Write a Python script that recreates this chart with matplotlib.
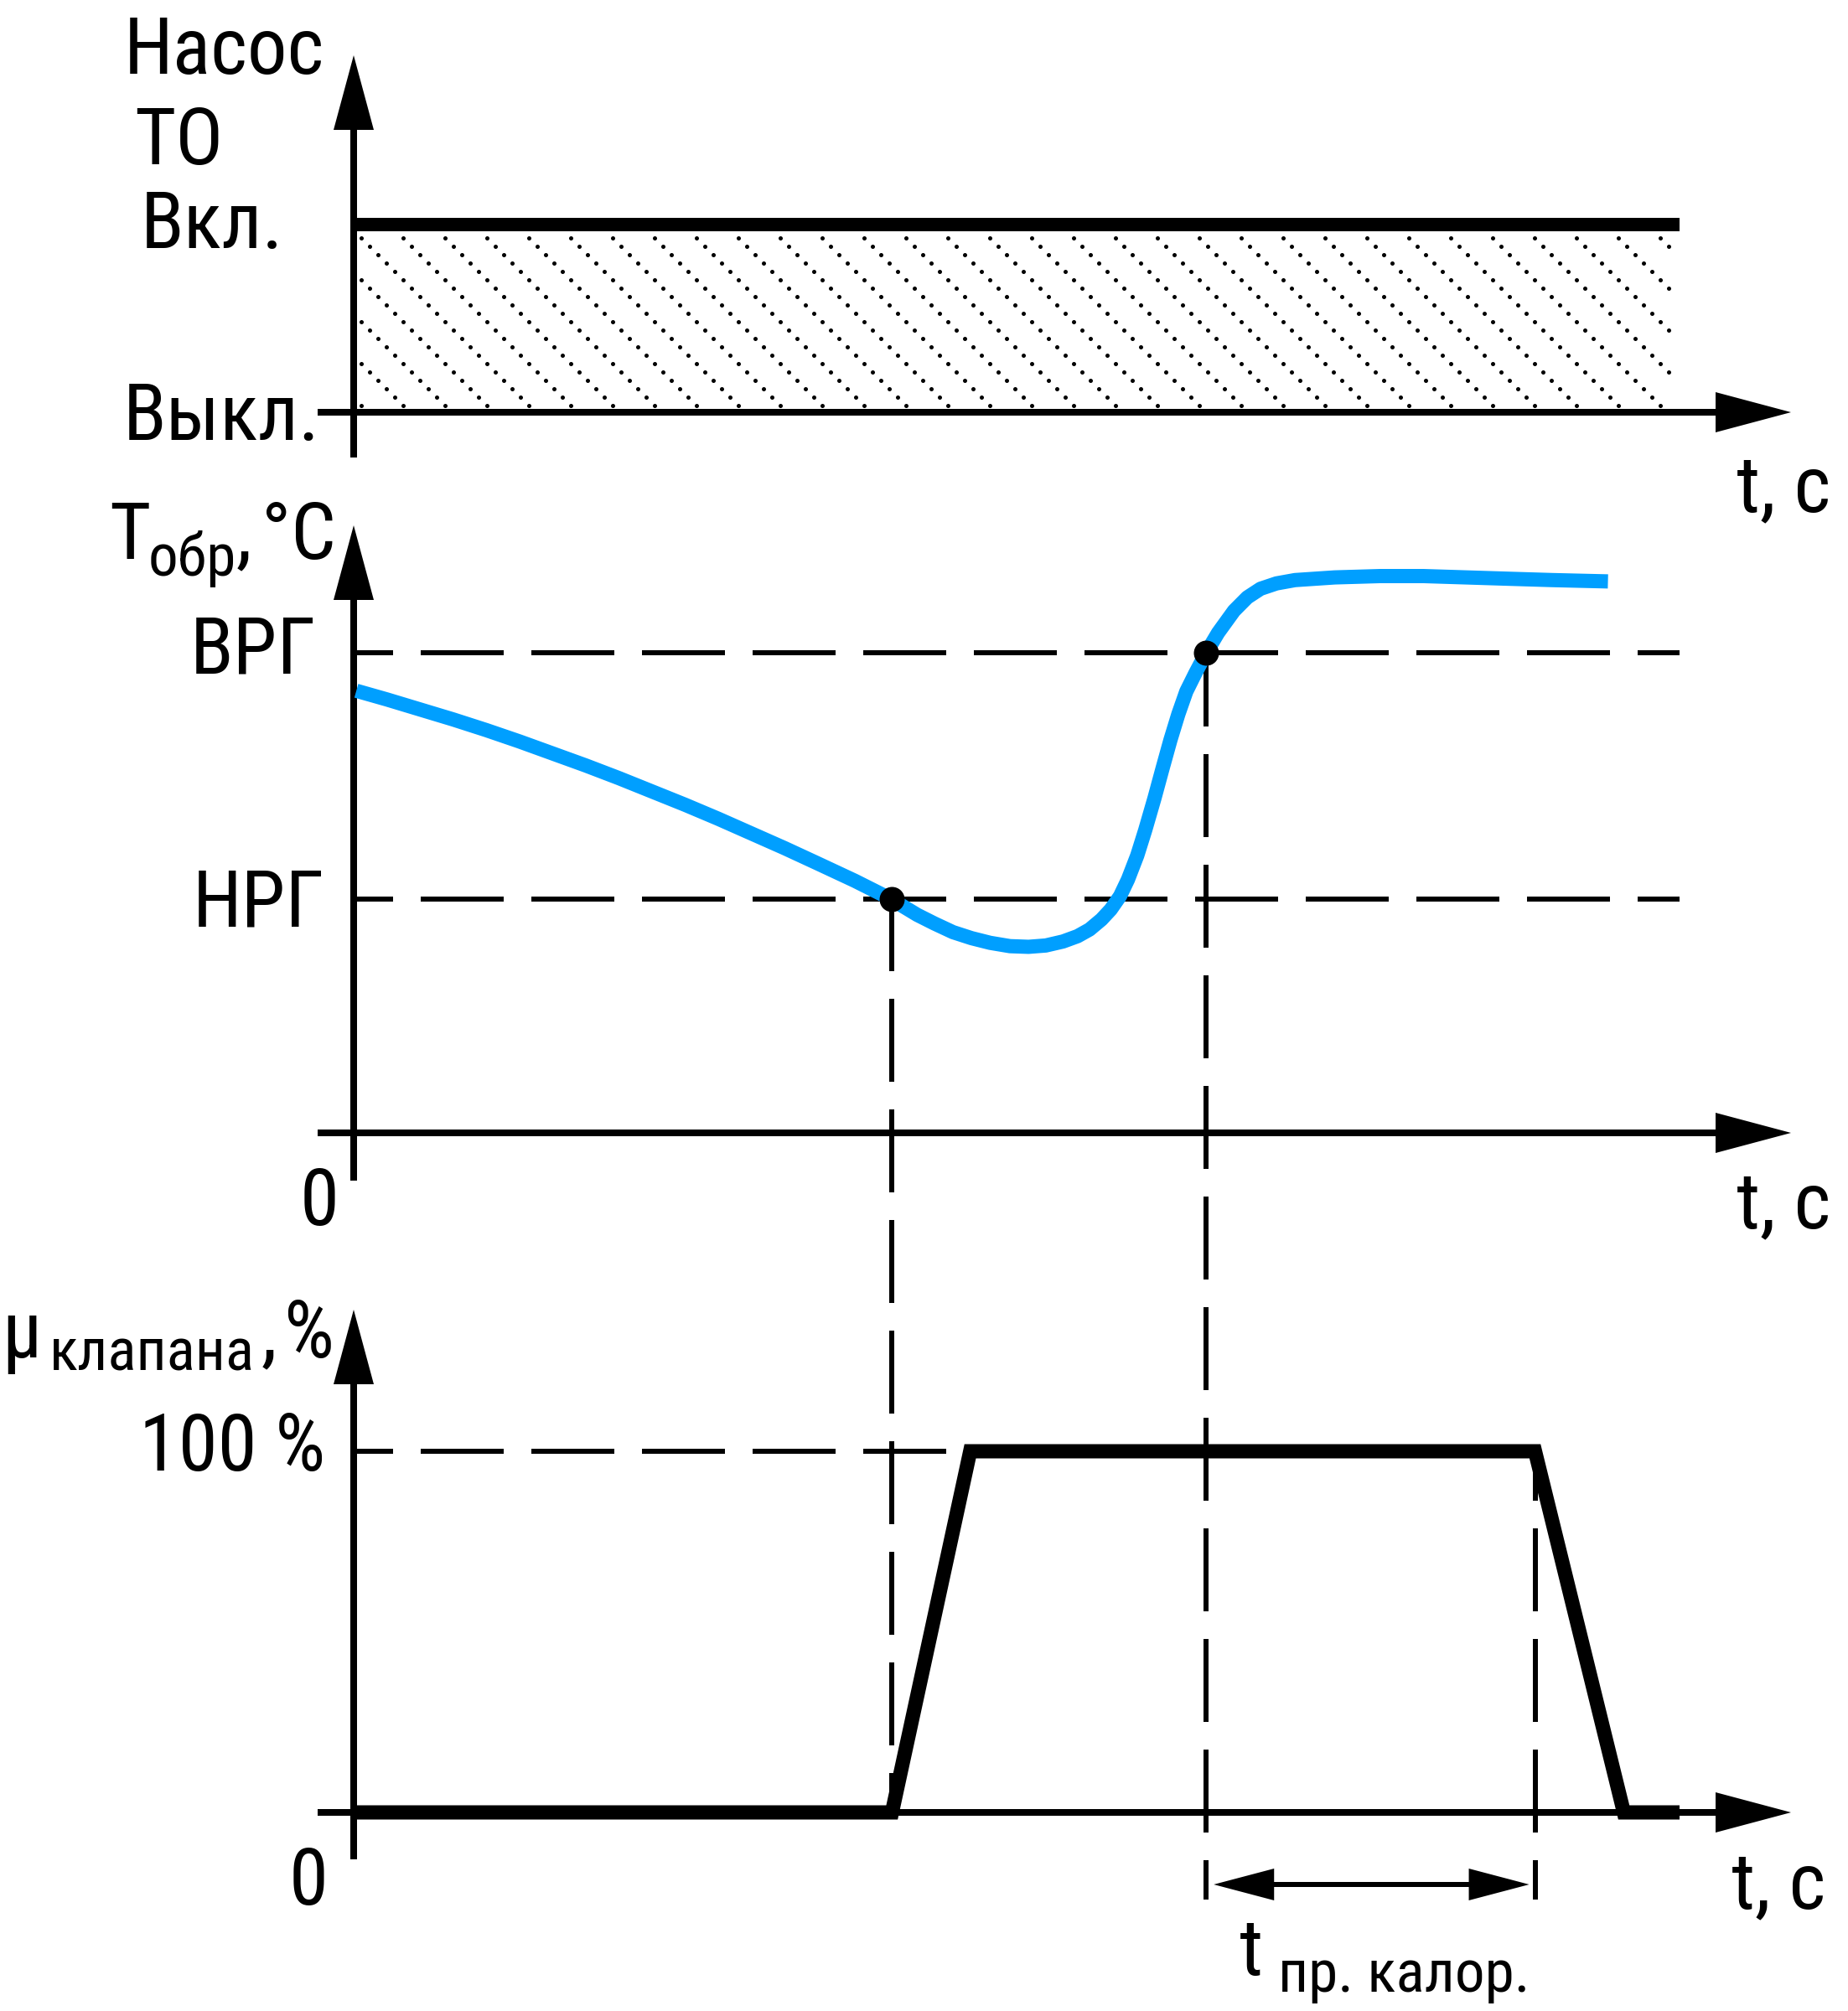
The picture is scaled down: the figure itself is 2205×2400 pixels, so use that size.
import os
import numpy as np
import matplotlib
matplotlib.use("Agg")
import matplotlib.pyplot as plt
from matplotlib import font_manager as fm
from matplotlib.patches import Polygon
from matplotlib.transforms import blended_transform_factory

# ------------------------------------------------------------------ data
pump_t = [0, 100]            # time, s (arbitrary units)
pump_state = [1, 1]          # 1 = "Вкл.", 0 = "Выкл."
pump_labels = ["Выкл.", "Вкл."]

temp_t = [0.2, 2.5, 5.0, 7.5, 10.0, 12.5, 15.0, 17.5, 20.0, 22.5, 25.0, 27.5,
          30.0, 32.5, 35.0, 37.8, 40.6, 41.5, 42.5, 43.8, 45.2, 46.6, 48.0,
          49.5, 50.9, 52.2, 53.5, 54.6, 55.5, 56.4, 57.1, 57.8, 58.4, 59.1,
          59.7, 60.4, 61.0, 61.6, 62.2, 62.8, 63.5, 64.3, 65.2, 66.4, 67.4,
          68.4, 69.6, 71.0, 74.0, 77.4, 80.7, 83.9, 87.1, 90.4, 94.6]
temp_val = [66.3, 65.0, 63.5, 62.0, 60.4, 58.7, 56.9, 55.1, 53.2, 51.2, 49.2,
            47.1, 44.9, 42.7, 40.4, 37.8, 35.0, 33.9, 32.7, 31.4, 30.1, 29.2,
            28.5, 28.0, 27.9, 28.1, 28.7, 29.5, 30.5, 32.0, 33.5, 35.5, 38.0,
            41.6, 45.4, 50.2, 54.6, 58.9, 62.8, 66.2, 69.0, 72.0, 75.0, 78.3,
            80.3, 81.6, 82.4, 82.9, 83.3, 83.5, 83.5, 83.3, 83.1, 82.9, 82.7]

T_nrg, T_vrg = 35, 72        # lower / upper thresholds, °C
t_nrg, t_vrg = 40.6, 64.3    # crossing times
temp_tick_labels = ["НРГ", "ВРГ"]

valve_t = [0, 40.6, 46.5, 89.1, 95.8, 100]
valve_pct = [0, 0, 100, 100, 0, 0]
t_close = 89.1
valve_tick_label = "100 %"

# ------------------------------------------------------------------ fonts
def pick_font():
    cands = [('Liberation Sans Narrow', 'normal'), ('Arial Narrow', 'normal'),
             ('Roboto Condensed', 'normal'), ('Noto Sans', 'condensed'),
             ('Noto Sans', 'semi-condensed'), ('Open Sans Condensed', 'normal'),
             ('Open Sans', 'condensed'), ('Roboto', 'condensed'),
             ('DejaVu Sans', 'condensed')]
    for fam, st in cands:
        try:
            path = fm.findfont(fm.FontProperties(family=fam, stretch=st),
                               fallback_to_default=False)
        except Exception:
            continue
        name = os.path.basename(path).lower()
        if 'narrow' in name or 'cond' in name:
            return fm.FontProperties(fname=path)
    return fm.FontProperties(family='Liberation Sans')


FP = pick_font()

# ------------------------------------------------------------------ layout
W, H, DPI = 2205, 2400, 100
PT = 72.0 / DPI                      # points per pixel
X0, PXT = 422, 15.82                 # pixel of t=0, pixels per time unit
Y_TOP0, S_TOP = 492, 224             # pump panel
Y_MID0, S_MID = 1352, 7.958          # temperature panel
Y_BOT0, S_BOT = 2163, 4.31           # valve panel
X_END_ARROW = 2137
X_AX_START = 379

plt.rcParams['lines.scale_dashes'] = False

fig = plt.figure(figsize=(W / DPI, H / DPI), dpi=DPI)
fig.patch.set_facecolor('white')
renderer = fig.canvas.get_renderer()


def data_axes(y0, s):
    ax = fig.add_axes([0, 0, 1, 1])
    ax.set_xlim(-X0 / PXT, (W - X0) / PXT)
    ax.set_ylim((y0 - H) / s, y0 / s)
    ax.axis('off')
    ax.patch.set_alpha(0)
    return ax


ax_px = fig.add_axes([0, 0, 1, 1])
ax_px.set_xlim(0, W)
ax_px.set_ylim(H, 0)
ax_px.axis('off')

ax_top = data_axes(Y_TOP0, S_TOP)
ax_mid = data_axes(Y_MID0, S_MID)
ax_bot = data_axes(Y_BOT0, S_BOT)

# font scale: compromise between matching glyph height and text width
_probe = ax_px.text(0, 0, "Насос", fontproperties=FP, fontsize=72)
_w = _probe.get_window_extent(renderer=renderer).width
_probe.remove()
K = float(np.clip((227.0 / _w) ** 0.5, 0.8, 1.05))
BIG, SMALL = 72 * K, 54 * K

AXLW = 8 * PT
DASHLW = 6 * PT
DASH = (52 * PT, (99 * PT, 33 * PT))


def to_px(ax, x, y):
    d = ax.transData.transform((x, y))
    return d[0], H - d[1]


def vaxis(tip_y, bottom_y):
    ax_px.plot([X0, X0], [tip_y + 80, bottom_y], color='black', lw=AXLW,
               solid_capstyle='butt', zorder=3)
    ax_px.add_patch(Polygon([(X0 - 24, tip_y + 89), (X0 + 24, tip_y + 89),
                             (X0, tip_y)], closed=True, color='black', lw=0,
                            zorder=3))


def haxis(y):
    ax_px.plot([X_AX_START, X_END_ARROW - 80], [y, y], color='black',
               lw=AXLW, solid_capstyle='butt', zorder=3)
    ax_px.add_patch(Polygon([(X_END_ARROW - 90, y - 24),
                             (X_END_ARROW - 90, y + 24), (X_END_ARROW, y)],
                            closed=True, color='black', lw=0, zorder=3))


def txt(x, y, s, size=None, ha='left'):
    return ax_px.text(x, y, s, fontsize=BIG if size is None else size,
                      ha=ha, va='baseline', fontproperties=FP,
                      color='black', zorder=5)


def chain(x, parts):
    """parts: (text, size, baseline_y, gap_before_px)"""
    for s, size, y, gap in parts:
        x += gap
        t = txt(x, y, s, size=size)
        x = t.get_window_extent(renderer=renderer).x1


# ------------------------------------------------------------------ panel 1: pump
vaxis(66, 546)
haxis(Y_TOP0)
ax_top.plot(pump_t, pump_state, color='black', lw=16 * PT,
            solid_capstyle='butt', zorder=4)
# dotted diagonal hatch inside the "on" area
xl, yt = to_px(ax_top, pump_t[0], max(pump_state))
xr, yb = to_px(ax_top, pump_t[-1], 0)
rows = np.arange(yt + 16, yb - 4, 10)
dots_x, dots_y = [], []
for yy in rows:
    xs = np.arange(xl + 9, xr - 3, 10)
    xs = xs[np.isclose(np.mod(xs - yy - 47 + 1e-6, 50), 0, atol=0.5)]
    dots_x.extend(xs)
    dots_y.extend([yy] * len(xs))
ax_px.scatter(dots_x, dots_y, s=(5 * PT) ** 2, color='black', lw=0, zorder=2)

txt(387, 88, "Насос", ha='right')
txt(160, 196, "ТО")
txt(168, 296, pump_labels[1])
txt(382, 525, pump_labels[0], ha='right')
txt(2072, 610, "t, c")

# ------------------------------------------------------------------ panel 2: temperature
vaxis(627, 1409)
haxis(Y_MID0)
for T in (T_nrg, T_vrg):
    ax_mid.plot([0, pump_t[-1]], [T, T], color='black', lw=DASHLW,
                linestyle=DASH, dash_capstyle='butt', zorder=2)
ax_mid.plot(temp_t, temp_val, color='#009FFF', lw=17 * PT,
            solid_capstyle='butt', solid_joinstyle='round', zorder=4)
ax_mid.plot([t_nrg, t_vrg], [T_nrg, T_vrg], 'o', color='black',
            markersize=30 * PT, markeredgewidth=0, zorder=6)

chain(130, [("T", BIG, 667, 0), ("обр", SMALL, 687, -3),
            (",", BIG, 667, 0), ("°C", BIG, 667, 12)])
txt(377, 803, temp_tick_labels[1], ha='right')
txt(387, 1106, temp_tick_labels[0], ha='right')
txt(358, 1462, "0")
txt(2072, 1465, "t, c")

# ------------------------------------------------------------------ panel 3: valve
vaxis(1563, 2219)
haxis(Y_BOT0)
ax_bot.plot([0, valve_t[2]], [100, 100], color='black', lw=DASHLW,
            linestyle=DASH, dash_capstyle='butt', zorder=2)
ax_bot.plot(valve_t, valve_pct, color='black', lw=17 * PT,
            solid_capstyle='butt', solid_joinstyle='miter', zorder=4)

# vertical dashed guide lines (bottom -> top)
blend = blended_transform_factory(ax_bot.transData, ax_px.transData)
guides = [(t_nrg, Y_BOT0, to_px(ax_mid, 0, T_nrg)[1]),
          (t_vrg, 2267, to_px(ax_mid, 0, T_vrg)[1]),
          (t_close, 2267, to_px(ax_bot, 0, 100)[1])]
for tg, ybot, ytop in guides:
    ax_px.plot([tg, tg], [ybot, ytop], transform=blend, color='black',
               lw=DASHLW, linestyle=DASH, dash_capstyle='butt', zorder=2)

# double arrow for t пр. калор.
xa = to_px(ax_bot, t_vrg, 0)[0] + 9
xb = to_px(ax_bot, t_close, 0)[0] - 7
ya = 2249
ax_px.plot([xa + 60, xb - 60], [ya, ya], color='black', lw=6 * PT,
           solid_capstyle='butt', zorder=3)
ax_px.add_patch(Polygon([(xa, ya), (xa + 72, ya - 19), (xa + 72, ya + 19)],
                        closed=True, color='black', lw=0, zorder=3))
ax_px.add_patch(Polygon([(xb, ya), (xb - 72, ya - 19), (xb - 72, ya + 19)],
                        closed=True, color='black', lw=0, zorder=3))

chain(2, [("μ", BIG, 1620, 0), ("клапана", SMALL, 1635, 10),
          (",", BIG, 1620, 8), ("%", BIG, 1620, 8)])
txt(388, 1755, valve_tick_label, ha='right')
txt(345, 2273, "0")
txt(2066, 2277, "t, c")
chain(1479, [("t", BIG, 2357, 0), ("пр. калор.", SMALL, 2377, 18)])

fig.savefig("out.png", dpi=DPI, facecolor='white')
